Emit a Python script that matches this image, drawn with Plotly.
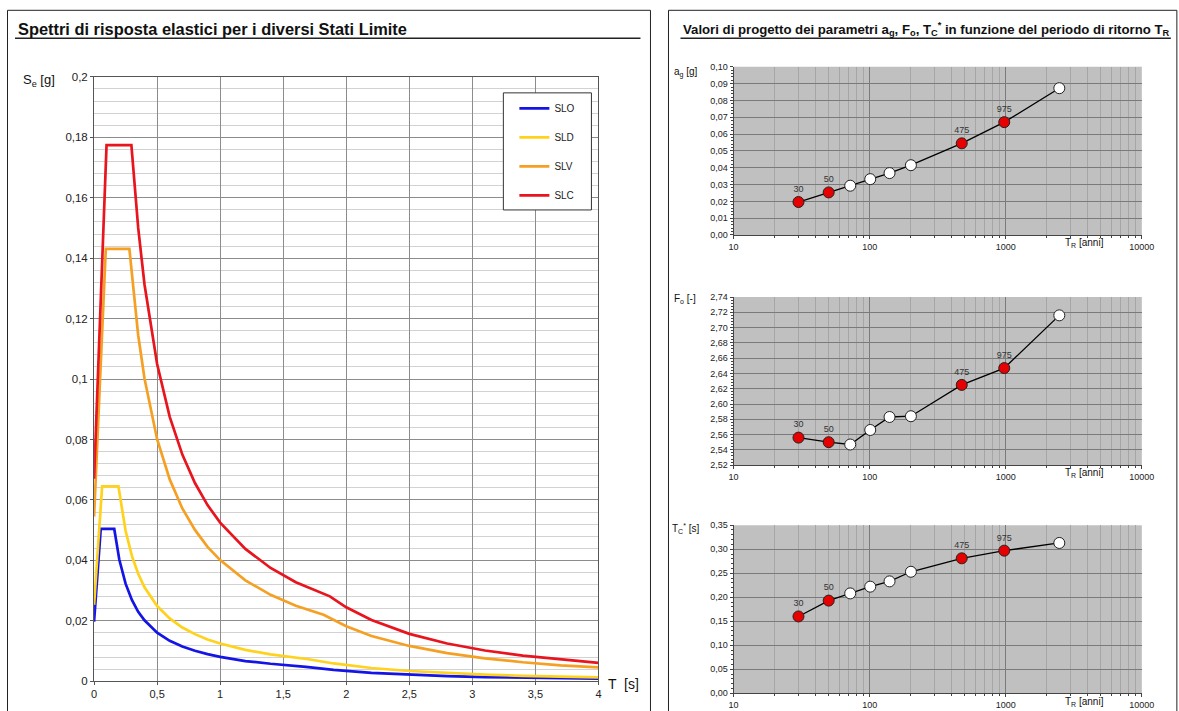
import plotly.graph_objects as go

W, H = 1179, 711
# the photographed page is slightly shrunk; map reference pixel positions to page pixels
SX_A, SX_B = 5.0, 0.984
SY_A, SY_B = 6.2, 0.9824
def px(x): return ((x - SX_A) / SX_B) / W
def py(y): return 1 - ((y - SY_A) / SY_B) / H

# ---------------- data: elastic response spectra (left) ----------------
T_SLO = [0, 0.053, 0.16, 0.2, 0.25, 0.3, 0.35, 0.4, 0.5, 0.6, 0.7, 0.8, 0.9, 1.0, 1.2, 1.4, 1.68, 1.9, 2.2, 2.5, 2.8, 3.1, 3.4, 3.7, 4.0]
Se_SLO = [0.0197, 0.0504, 0.0504, 0.0403, 0.0323, 0.0269, 0.0230, 0.0202, 0.0161, 0.0134, 0.0115, 0.0101, 0.0090, 0.0081, 0.0067, 0.0058, 0.0048, 0.0038, 0.0028, 0.0022, 0.0017, 0.0014, 0.0012, 0.0010, 0.00085]

T_SLD = [0, 0.064, 0.193, 0.25, 0.3, 0.35, 0.4, 0.5, 0.6, 0.7, 0.8, 0.9, 1.0, 1.2, 1.4, 1.7, 1.9, 2.2, 2.5, 2.8, 3.1, 3.4, 3.7, 4.0]
Se_SLD = [0.0253, 0.0645, 0.0645, 0.0498, 0.0415, 0.0356, 0.0311, 0.0249, 0.0208, 0.0178, 0.0156, 0.0138, 0.0125, 0.0104, 0.0089, 0.0073, 0.0059, 0.0044, 0.0034, 0.0027, 0.0022, 0.0018, 0.0015, 0.0013]

T_SLV = [0, 0.093, 0.28, 0.35, 0.4, 0.5, 0.6, 0.7, 0.8, 0.9, 1.0, 1.2, 1.4, 1.6, 1.82, 2.0, 2.2, 2.5, 2.8, 3.1, 3.4, 3.7, 4.0]
Se_SLV = [0.0545, 0.1431, 0.1431, 0.1145, 0.1002, 0.0801, 0.0668, 0.0572, 0.0501, 0.0445, 0.0401, 0.0334, 0.0286, 0.0250, 0.0220, 0.0182, 0.0150, 0.0117, 0.0093, 0.0076, 0.0063, 0.0053, 0.0046]

T_SLC = [0, 0.099, 0.296, 0.35, 0.4, 0.5, 0.6, 0.7, 0.8, 0.9, 1.0, 1.2, 1.4, 1.6, 1.87, 2.0, 2.2, 2.5, 2.8, 3.1, 3.4, 3.7, 4.0]
Se_SLC = [0.0670, 0.1774, 0.1774, 0.1500, 0.1313, 0.1050, 0.0875, 0.0750, 0.0656, 0.0583, 0.0525, 0.0438, 0.0375, 0.0328, 0.0281, 0.0245, 0.0203, 0.0157, 0.0125, 0.0102, 0.0085, 0.0072, 0.0061]

series_names = ["SLO", "SLD", "SLV", "SLC"]
series_colors = ["#1414E6", "#FFD21E", "#F5A023", "#E8141E"]

# ---------------- data: design parameters vs return period (right) ----------------
TR = [30, 50, 72, 101, 140, 201, 475, 975, 2475]
ag = [0.0196, 0.0253, 0.0293, 0.0332, 0.0368, 0.0415, 0.0545, 0.0671, 0.0873]
F0 = [2.556, 2.550, 2.547, 2.566, 2.583, 2.584, 2.625, 2.647, 2.716]
TCs = [0.160, 0.193, 0.208, 0.222, 0.233, 0.253, 0.281, 0.297, 0.313]
TR_labels = ["30", "50", "", "", "", "", "475", "975", ""]
is_design = [True, True, False, False, False, False, True, True, False]

FONT = "Liberation Sans, Arial, sans-serif"

fig = go.Figure()

for name, T, Se, col in zip(series_names, [T_SLO, T_SLD, T_SLV, T_SLC],
                            [Se_SLO, Se_SLD, Se_SLV, Se_SLC], series_colors):
    fig.add_trace(go.Scatter(x=T, y=Se, mode="lines", name=name, legendgroup=name,
                             line=dict(color=col, width=2.7), xaxis="x", yaxis="y"))

marker_colors = ["#E60000" if d else "white" for d in is_design]
for i, vals in enumerate([ag, F0, TCs]):
    k = i + 2
    fig.add_trace(go.Scatter(
        x=TR, y=vals, mode="lines+markers+text", text=TR_labels,
        textposition="top center", textfont=dict(size=9, color="#333", family=FONT),
        marker=dict(size=11, color=marker_colors, line=dict(color="#222", width=1)),
        line=dict(color="black", width=1.3), showlegend=False, cliponaxis=False,
        xaxis=f"x{k}", yaxis=f"y{k}"))

layout = dict(
    width=W, height=H, margin=dict(l=0, r=0, t=0, b=0),
    paper_bgcolor="white", plot_bgcolor="white",
    separators=",.",
    font=dict(family=FONT, color="#222"),
    legend=dict(x=px(514), y=py(94), xanchor="left", yanchor="top",
                bgcolor="rgba(0,0,0,0)", borderwidth=0,
                font=dict(size=10, family=FONT, color="#222"),
                itemwidth=30, tracegroupgap=10, traceorder="grouped"),
    xaxis=dict(domain=[px(94), px(598)], range=[0, 4], dtick=0.5, anchor="y",
               showgrid=True, gridcolor="#8c8c8c", gridwidth=1,
               showline=True, linecolor="#555", mirror=True, zeroline=False,
               ticks="outside", ticklen=3, tickcolor="#555",
               tickfont=dict(size=11, color="#222")),
    yaxis=dict(domain=[py(681), py(77)], range=[0, 0.2], dtick=0.02, anchor="x",
               showgrid=True, gridcolor="#8c8c8c", gridwidth=1,
               minor=dict(dtick=0.004, showgrid=True, gridcolor="#d2d2d2", gridwidth=1),
               showline=True, linecolor="#555", mirror=True, zeroline=False,
               ticks="outside", ticklen=3, tickcolor="#555",
               tickfont=dict(size=11.5, color="#222")),
)

right_y = [
    dict(range=[0, 0.10], dtick=0.01, minor=0.002, dom=(235, 67)),
    dict(range=[2.52, 2.74], dtick=0.02, minor=0.004, dom=(465, 297)),
    dict(range=[0, 0.35], dtick=0.05, minor=0.01, dom=(693, 525)),
]
shapes = []
for i, spec in enumerate(right_y):
    k = i + 2
    layout[f"xaxis{k}"] = dict(
        domain=[px(733), px(1141)], type="log", range=[1, 4], dtick=1, tickformat="d",
        anchor=f"y{k}", showgrid=True, gridcolor="#7a7a7a", gridwidth=1,
        minor=dict(dtick="D1", showgrid=True, gridcolor="#a6a6a6", gridwidth=1,
                   ticks="outside", ticklen=2, tickcolor="#444"),
        showline=True, linecolor="#444", mirror=False, zeroline=False,
        ticks="outside", ticklen=3, tickcolor="#444",
        tickfont=dict(size=9, color="#222"))
    layout[f"yaxis{k}"] = dict(
        domain=[py(spec["dom"][0]), py(spec["dom"][1])], range=spec["range"],
        dtick=spec["dtick"], tickformat=".2f", anchor=f"x{k}",
        showgrid=True, gridcolor="#7a7a7a", gridwidth=1,
        minor=dict(dtick=spec["minor"], showgrid=False, ticks="outside", ticklen=2, tickcolor="#444"),
        showline=True, linecolor="#444", mirror=False, zeroline=False,
        ticks="outside", ticklen=3, tickcolor="#444",
        tickfont=dict(size=9, color="#222"))
    shapes.append(dict(type="rect", xref=f"x{k} domain", yref=f"y{k} domain",
                       x0=0, x1=1, y0=0, y1=1, fillcolor="#c0c0c0",
                       line=dict(width=0), layer="below"))

# panel frames, title underlines and legend box
shapes += [
    dict(type="rect", xref="paper", yref="paper", x0=px(7.5), x1=px(650), y0=py(730), y1=py(10.5),
         line=dict(color="#222", width=1), fillcolor="rgba(0,0,0,0)"),
    dict(type="rect", xref="paper", yref="paper", x0=px(668), x1=px(1176), y0=py(730), y1=py(10.5),
         line=dict(color="#222", width=1), fillcolor="rgba(0,0,0,0)"),
    dict(type="line", xref="paper", yref="paper", x0=px(15), x1=px(640), y0=py(38.5), y1=py(38.5),
         line=dict(color="#222", width=1.5)),
    dict(type="line", xref="paper", yref="paper", x0=px(680), x1=px(1170), y0=py(38.5), y1=py(38.5),
         line=dict(color="#222", width=1.5)),
    dict(type="rect", xref="paper", yref="paper", x0=px(503), x1=px(591), y0=py(210), y1=py(93),
         line=dict(color="#333", width=1), fillcolor="white", layer="above"),
]
layout["shapes"] = shapes

def ann(text, x, y, size, xanchor="left", yanchor="middle"):
    return dict(text=text, x=px(x), y=py(y), xref="paper", yref="paper",
                xanchor=xanchor, yanchor=yanchor, showarrow=False,
                font=dict(size=size, family=FONT, color="#111"))

layout["annotations"] = [
    ann("<b>Spettri di risposta elastici per i diversi Stati Limite</b>", 16, 29, 16.4),
    ann("<b>Valori di progetto dei parametri a<sub>g</sub>, F<sub>o</sub>, T<sub>C</sub><sup>*</sup> "
        "in funzione del periodo di ritorno T<sub>R</sub></b>", 680, 29, 13.2),
    ann("S<sub>e</sub> [g]", 21, 81, 13),
    ann("T  [s]", 606, 684, 14),
    ann("a<sub>g</sub> [g]", 672, 73, 10),
    ann("F<sub>o</sub> [-]", 672, 299, 10),
    ann("T<sub>C</sub><sup>*</sup> [s]", 670, 528, 10),
    ann("T<sub>R</sub> [anni]", 1084, 243, 10, xanchor="center"),
    ann("T<sub>R</sub> [anni]", 1084, 473, 10, xanchor="center"),
    ann("T<sub>R</sub> [anni]", 1084, 702, 10, xanchor="center"),
]

fig.update_layout(**layout)
fig.write_html(
    "out.html",
    config={"displayModeBar": False},
    post_script="document.documentElement.style.margin='0';document.body.style.margin='0';"
                "document.body.style.padding='0';document.body.style.overflow='hidden';",
)
